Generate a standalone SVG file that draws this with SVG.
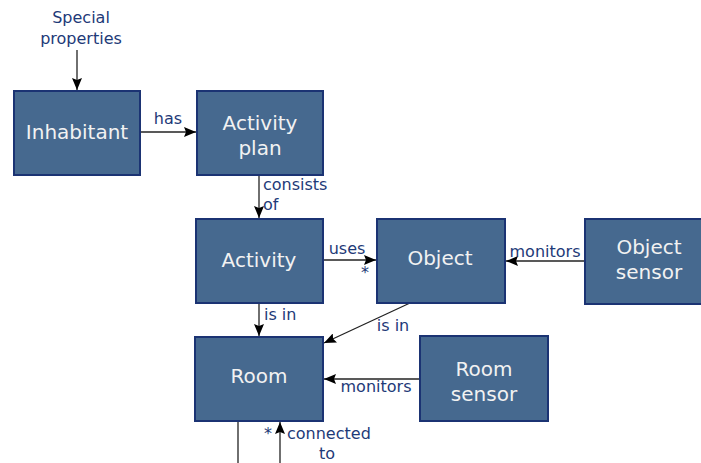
<svg xmlns="http://www.w3.org/2000/svg" width="701" height="463" viewBox="0 0 701 463">
<style>
.box{fill:#46698f;stroke:#1b3373;stroke-width:2}
.bt{fill:#f2f2f2;font-family:"DejaVu Sans",sans-serif;font-size:20px;text-anchor:middle}
.lb{fill:#1e3a78;font-family:"DejaVu Sans",sans-serif;font-size:16px}
.ln{stroke:#222;stroke-width:1.3;fill:none}
</style>
<defs>
<marker id="ah" viewBox="0 0 12 10" refX="12" refY="5" markerWidth="12" markerHeight="10" markerUnits="userSpaceOnUse" orient="auto">
<path d="M0,0 L12,5 L0,10 L2,5 Z" fill="#000"/>
</marker>
</defs>
<rect width="701" height="463" fill="#fff"/>
<g id="connectors">
<line class="ln" x1="77" y1="50" x2="77" y2="90" marker-end="url(#ah)"/>
<line class="ln" x1="141" y1="132" x2="196" y2="132" marker-end="url(#ah)"/>
<line class="ln" x1="259" y1="175" x2="259" y2="218" marker-end="url(#ah)"/>
<line class="ln" x1="323" y1="260" x2="376" y2="260" marker-end="url(#ah)"/>
<line class="ln" x1="585" y1="261" x2="506" y2="261" marker-end="url(#ah)"/>
<line class="ln" x1="259" y1="303" x2="259" y2="336" marker-end="url(#ah)"/>
<line class="ln" x1="410" y1="303" x2="324" y2="343" marker-end="url(#ah)"/>
<line class="ln" x1="420" y1="379" x2="324" y2="379" marker-end="url(#ah)"/>
<line class="ln" x1="238" y1="421" x2="238" y2="463"/>
<line class="ln" x1="280" y1="463" x2="280" y2="422" marker-end="url(#ah)"/>
<text class="lb" x="81" y="23" text-anchor="middle">Special</text>
<text class="lb" x="81" y="44" text-anchor="middle">properties</text>
<text class="lb" x="168" y="124" text-anchor="middle">has</text>
<text class="lb" x="263" y="190">consists</text>
<text class="lb" x="263" y="210">of</text>
<text class="lb" x="347" y="254" text-anchor="middle">uses</text>
<text class="lb" x="365" y="278" text-anchor="middle">*</text>
<text class="lb" x="545" y="257" text-anchor="middle">monitors</text>
<text class="lb" x="264" y="320">is in</text>
<text class="lb" x="393" y="331" text-anchor="middle">is in</text>
<text class="lb" x="376" y="392" text-anchor="middle">monitors</text>
<text class="lb" x="268" y="439" text-anchor="middle">*</text>
<text class="lb" x="287" y="439">connected</text>
<text class="lb" x="327" y="459" text-anchor="middle">to</text>
</g>
<g id="inhabitant"><rect class="box" x="14" y="91" width="126" height="84"/><text class="bt" x="77" y="139">Inhabitant</text></g>
<g id="activity-plan"><rect class="box" x="197" y="91" width="126" height="84"/><text class="bt" x="260" y="130">Activity</text><text class="bt" x="260" y="155">plan</text></g>
<g id="activity"><rect class="box" x="196" y="219" width="127" height="84"/><text class="bt" x="259" y="267">Activity</text></g>
<g id="object"><rect class="box" x="377" y="219" width="128" height="84"/><text class="bt" x="440" y="265">Object</text></g>
<g id="object-sensor"><rect class="box" x="585" y="219" width="125" height="85"/><text class="bt" x="649" y="254">Object</text><text class="bt" x="649" y="279">sensor</text></g>
<g id="room"><rect class="box" x="195" y="337" width="128" height="84"/><text class="bt" x="259" y="383">Room</text></g>
<g id="room-sensor"><rect class="box" x="420" y="336" width="128" height="85"/><text class="bt" x="484" y="376">Room</text><text class="bt" x="484" y="401">sensor</text></g>
</svg>
